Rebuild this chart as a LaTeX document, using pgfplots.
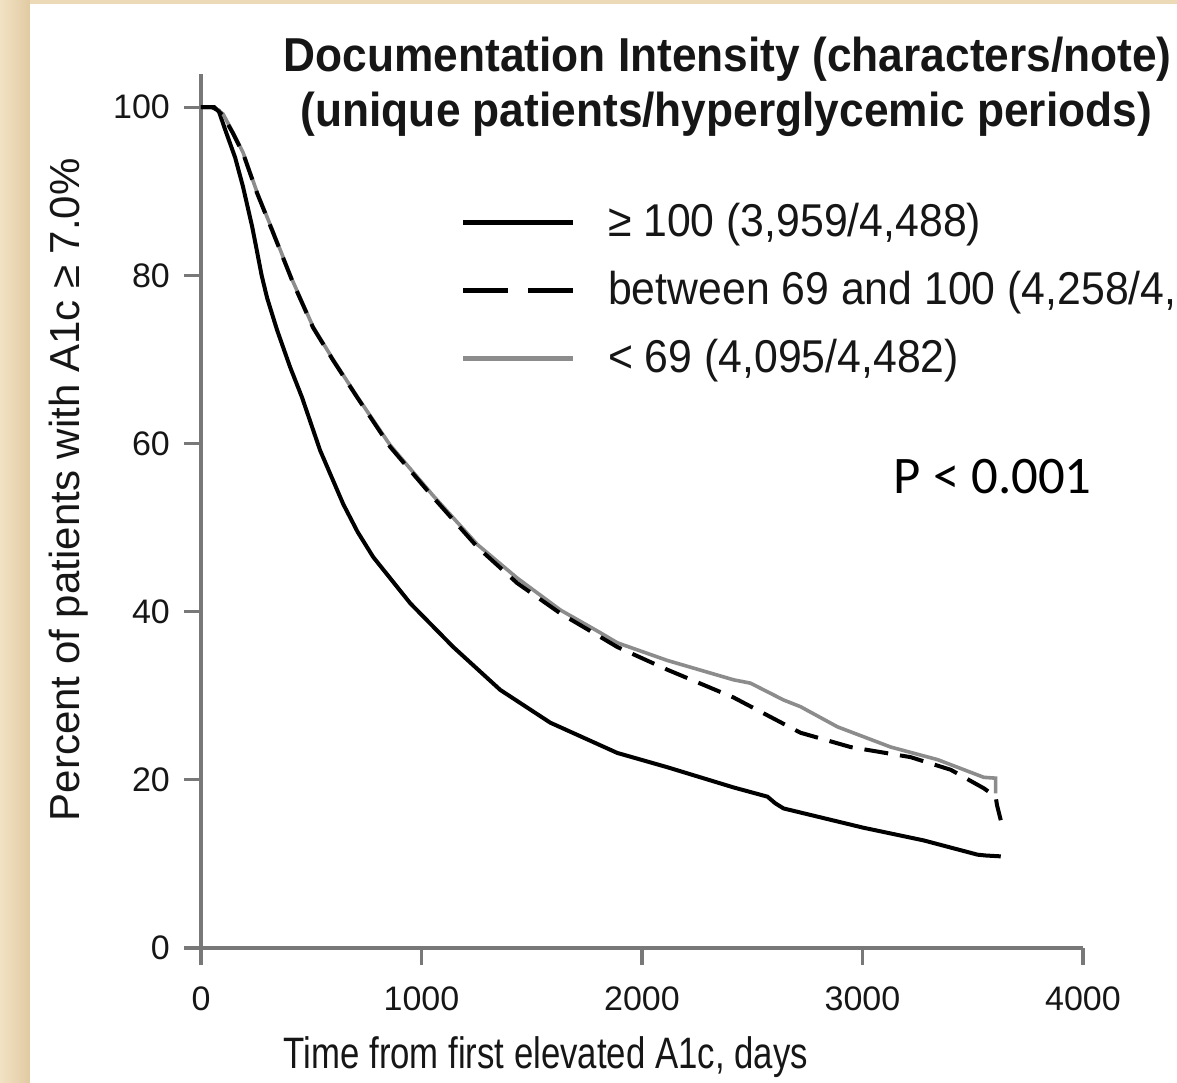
\documentclass[border=0pt]{standalone}
\usepackage{pgfplots}
\usepackage{pgfplotstable}
\pgfplotsset{compat=1.18}
\usepackage{fontspec}
\setmainfont{Liberation Sans}
\newfontfamily\calibri{Carlito}
\newfontfamily\titlefont[FakeStretch=0.93]{Liberation Sans}
\newfontfamily\legendfont[FakeStretch=0.93]{Liberation Sans}
\newfontfamily\xlabelfont[FakeStretch=0.79]{Liberation Sans}

\definecolor{beige}{RGB}{236,217,182}
\definecolor{beigelight}{RGB}{242,226,196}
\definecolor{beigedark}{RGB}{224,202,162}
\definecolor{axisgray}{RGB}{120,120,120}
\definecolor{curvegray}{RGB}{140,140,140}
\definecolor{ink}{RGB}{22,22,22}

% Kaplan-Meier curves: days, percent still >= 7.0%
\pgfplotstableread{
t s
0 100
50 100
80 99.6
110 97.3
155 94.0
190 90.6
232 85.8
250 83.4
275 80.0
300 77.3
345 73.5
404 69.1
458 65.5
540 59.2
645 52.8
710 49.5
781 46.5
949 41.0
1144 35.8
1357 30.7
1584 26.8
1888 23.2
2115 21.5
2415 19.1
2569 18.0
2605 17.2
2642 16.6
3005 14.3
3277 12.8
3522 11.1
3560 11.0
3627 10.9
}\highdoc

\pgfplotstableread{
t s
0 100
60 100
100 99.0
145 96.9
191 94.5
254 89.8
322 85.4
413 79.4
508 73.8
599 69.9
708 65.5
858 59.6
1053 53.6
1253 47.7
1434 43.4
1630 39.8
1811 37.0
1888 35.8
2115 33.1
2415 29.8
2719 25.6
2946 23.9
3218 22.7
3400 21.2
3550 19.0
3604 18.0
3610 17.0
3627 15.2
}\middoc

\pgfplotstableread{
t s
0 100
60 100
100 99.2
145 97.0
191 94.6
254 89.9
322 85.5
413 79.5
508 73.9
599 70.0
708 65.6
858 59.8
1053 53.8
1253 48.0
1434 44.0
1630 40.2
1811 37.5
1888 36.3
2115 34.2
2415 31.9
2492 31.5
2642 29.5
2719 28.7
2887 26.3
3128 23.9
3341 22.4
3550 20.3
3604 20.2
3604 18.4
}\lowdoc

\begin{document}
\begin{tikzpicture}
% canvas 1177 x 1082 px at 0.25pt per px, origin at the axis corner (px 201,948)
\useasboundingbox (-50.25pt,237pt) rectangle (244pt,-33.5pt);
\clip (-50.25pt,237pt) rectangle (244pt,-33.5pt);
\begin{scope}[x=0.25pt,y=-0.25pt,shift={(-201,-948)}]
  \fill[beige] (0,0) rectangle (1177,1082);
  \shade[left color=beigelight, right color=beigedark] (0,0) rectangle (30,1082);
  \fill[white] (30,4) rectangle (1177,1082);
\end{scope}

\begin{axis}[
    scale only axis,
    width=220.5pt, height=218.6pt,
    xmin=0, xmax=4000, ymin=0, ymax=104,
    axis x line*=bottom, axis y line*=left,
    axis line style={draw=axisgray, line width=0.8pt, -},
    xtick={0,1000,2000,3000,4000},
    ytick={0,20,40,60,80,100},
    tick align=outside,
    major tick length=4.25pt,
    tick style={draw=axisgray, line width=0.8pt},
    ticklabel style={font=\fontsize{8.5}{10}\selectfont, text=ink},
    xticklabel style={yshift=-2pt},
    /pgf/number format/assume math mode=true,
    /pgf/number format/1000 sep={},
    clip=false,
    xlabel={Time from first elevated A1c, days},
    ylabel={Percent of patients with A1c ≥ 7.0\%},
    xlabel style={at={(axis cs:372,-14.3)}, anchor=base west, inner sep=0pt,
                  font=\xlabelfont\fontsize{11}{13}\selectfont, text=ink},
    ylabel style={at={(axis cs:-549,15)}, anchor=base west, rotate=0, inner sep=0pt,
                  font=\fontsize{10.5}{12}\selectfont, text=ink},
    legend style={draw=none, fill=none, at={(axis cs:1175,89.2)}, anchor=north west,
                  inner sep=0pt, font=\legendfont\fontsize{11.5}{13.5}\selectfont, text=ink,
                  row sep=5.2pt, nodes={inner sep=1pt}},
    legend cell align=left,
    legend image code/.code={\draw[#1] (0pt,0pt) -- (27.5pt,0pt); \path (34.5pt,0pt);},
]
\addplot[black, line width=1pt, forget plot] table[x=t, y=s] {\highdoc};
\addplot[curvegray, line width=0.9pt, forget plot] table[x=t, y=s] {\lowdoc};
\addplot[black, line width=1pt, dash pattern=on 6pt off 3pt, forget plot] table[x=t, y=s] {\middoc};

\addlegendimage{black, line width=1.3pt}
\addlegendentry{≥ 100 (3,959/4,488)}
\addlegendimage{black, line width=1.3pt, dash pattern=on 11.25pt off 5pt}
\addlegendentry{between 69 and 100 (4,258/4,488)}
\addlegendimage{curvegray, line width=1.3pt}
\addlegendentry{< 69 (4,095/4,482)}
\end{axis}

\begin{scope}[x=0.25pt,y=-0.25pt,shift={(-201,-948)}]
  \node[anchor=base west, inner sep=0pt, text=ink, font=\titlefont\bfseries\fontsize{11.9}{14}\selectfont]
    at (283,72) {Documentation Intensity (characters/note)};
  \node[anchor=base west, inner sep=0pt, text=ink, font=\titlefont\bfseries\fontsize{11.9}{14}\selectfont]
    at (300,127) {(unique patients/hyperglycemic periods)};
  \node[anchor=base west, inner sep=0pt, text=black, font=\calibri\fontsize{13.2}{15}\selectfont]
    at (893,493) {P < 0.001};
\end{scope}
\end{tikzpicture}
\end{document}
